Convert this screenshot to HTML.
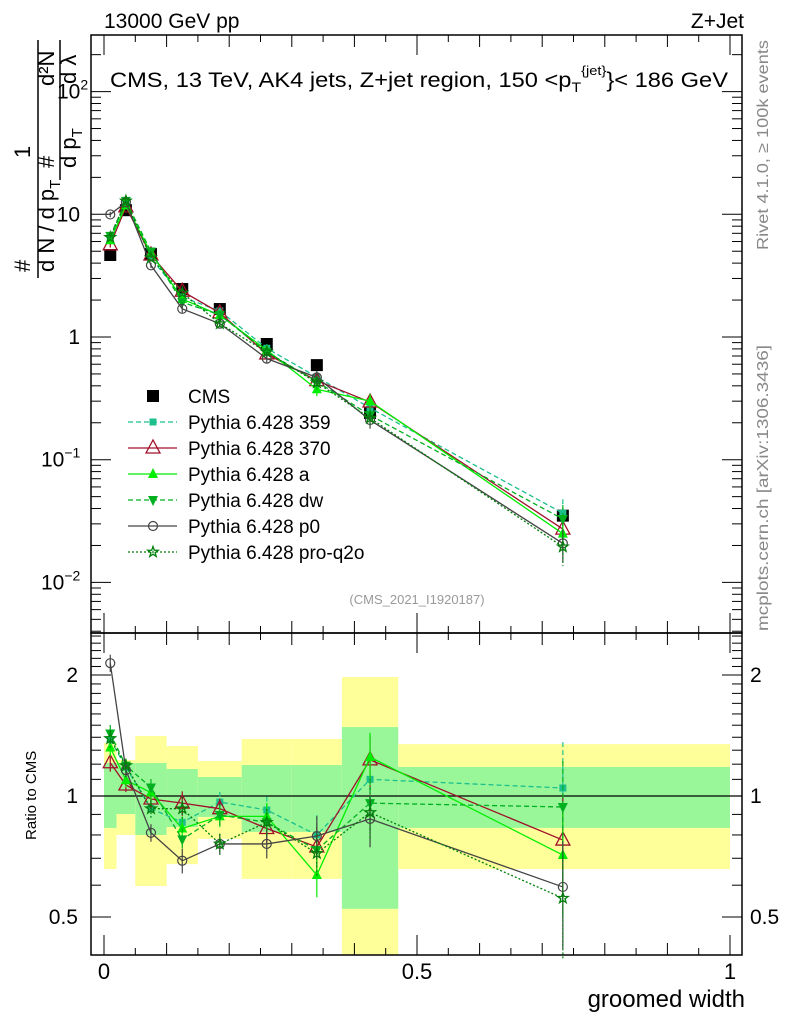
<!DOCTYPE html>
<html><head><meta charset="utf-8"><style>
body{margin:0;background:#fff;}
svg{display:block;font-family:"Liberation Sans",sans-serif;}
</style></head><body>
<svg id="chart" width="786" height="1024" viewBox="0 0 786 1024" xmlns="http://www.w3.org/2000/svg">
<g id="bands"></g>
<g id="axes"></g>
<g id="series"></g>
<g id="legend"></g>
<text x="104" y="28" font-size="21">13000 GeV pp</text>
<text x="744" y="28" font-size="21" text-anchor="end">Z+Jet</text>
<text x="110" y="87" font-size="21" textLength="618" lengthAdjust="spacingAndGlyphs">CMS, 13 TeV, AK4 jets, Z+jet region, 150 &lt;p<tspan font-size="14" dy="5">T</tspan><tspan font-size="13" dy="-17">{jet}</tspan><tspan dy="12">}&lt; 186 GeV</tspan></text>
<text x="417" y="604" font-size="13" fill="#999" text-anchor="middle">(CMS_2021_I1920187)</text>
<text transform="translate(768,250) rotate(-90)" font-size="16" fill="#888" textLength="210" lengthAdjust="spacingAndGlyphs">Rivet 4.1.0, ≥ 100k events</text>
<text transform="translate(768,631) rotate(-90)" font-size="16" fill="#888" textLength="286" lengthAdjust="spacingAndGlyphs">mcplots.cern.ch [arXiv:1306.3436]</text>
<g font-size="22">
<text transform="translate(30,272) rotate(-90)">#</text>
<text transform="translate(54,272) rotate(-90)">d N / d p<tspan font-size="15" dy="6">T</tspan></text>
<text transform="translate(30,158) rotate(-90)">1</text>
<text transform="translate(54,168) rotate(-90)">#</text>
<text transform="translate(76,168) rotate(-90)">d p<tspan font-size="15" dy="6">T</tspan></text>
<text transform="translate(54,86) rotate(-90)">d²N</text>
<text transform="translate(76,84) rotate(-90)">d λ</text>
<line x1="38" y1="278" x2="38" y2="40" stroke="#000" stroke-width="1.5"/>
<line x1="60" y1="180" x2="60" y2="40" stroke="#000" stroke-width="1.5"/>
</g>
<text transform="translate(36,840) rotate(-90)" font-size="15">Ratio to CMS</text>
<text x="745" y="1007" font-size="24" text-anchor="end">groomed width</text>
</svg>
<script>
const xcenters=[0.01,0.035,0.075,0.125,0.185,0.26,0.34,0.425,0.733];
const xedges=[0,0.02,0.05,0.1,0.15,0.22,0.3,0.38,0.47,1.0];
const cms=[4.66,10.8,4.74,2.46,1.69,0.877,0.59,0.24,0.035];
const yelHi=[1.355,1.229,1.41,1.331,1.222,1.386,1.386,1.977,1.346];
const yelLo=[0.658,0.80,0.597,0.677,0.782,0.622,0.622,0.35,0.658];
const grnHi=[1.208,1.208,1.208,1.167,1.115,1.194,1.194,1.484,1.181];
const grnLo=[0.833,0.902,0.80,0.837,0.887,0.814,0.814,0.524,0.833];
const r359=[1.38,1.18,0.93,0.86,0.966,0.923,0.80,1.10,1.047];
const r370=[1.21,1.065,0.983,0.96,0.93,0.83,0.747,1.23,0.777];
const rA=[1.32,1.095,1.02,0.83,0.89,0.89,0.636,1.25,0.713];
const rDW=[1.43,1.19,1.05,0.78,0.897,0.86,0.734,0.96,0.939];
const rP0=[2.14,1.16,0.81,0.69,0.76,0.76,0.795,0.877,0.594];
const rPRO=[1.39,1.19,0.93,0.93,0.76,0.86,0.72,0.91,0.557];
const relErr=[0.05,0.04,0.05,0.07,0.06,0.08,0.12,0.15,0.3];
const NS="http://www.w3.org/2000/svg";
const X0=104,XW=626;
const L=91,R=742,T=35,MB=633,RB=955;
const xs=v=>X0+XW*v;
const ym=v=>337-122.7*Math.log10(v);
const yr=v=>796-402*Math.log10(v);
function mk(p,tag,attrs){const e=document.createElementNS(NS,tag);for(const k in attrs)e.setAttribute(k,attrs[k]);p.appendChild(e);return e;}
const bands=document.getElementById('bands');
for(let i=0;i<cms.length;i++){
 const x1=xs(xedges[i]),x2=xs(xedges[i+1]);
 const top=Math.max(MB,yr(yelHi[i])),bot=Math.min(RB,yr(yelLo[i]));
 const b1=mk(bands,'rect',{x:x1,y:top,width:x2-x1,height:bot-top,fill:'#ffff99'});
 
 
 const b2=mk(bands,'rect',{x:x1,y:yr(grnHi[i]),width:x2-x1,height:yr(grnLo[i])-yr(grnHi[i]),fill:'#99f799'});
 
 
}
const ax=document.getElementById('axes');
function ln(x1,y1,x2,y2,w){return mk(ax,'line',{x1,y1,x2,y2,stroke:'#000','stroke-width':w||1});}
mk(ax,'rect',{x:L,y:T,width:R-L,height:MB-T,fill:'none',stroke:'#000','stroke-width':1.5});
mk(ax,'rect',{x:L,y:MB,width:R-L,height:RB-MB,fill:'none',stroke:'#000','stroke-width':1.5});
ln(L,yr(1),R,yr(1),1.3);
for(let d=-3;d<=2;d++){for(let m=1;m<10;m++){const v=m*Math.pow(10,d);const y=ym(v);if(y<T||y>MB)continue;const len=m==1?20:10;ln(L,y,L+len,y);ln(R,y,R-len,y);}}
const ytl=[[100,'10','2'],[10,'10',''],[1,'1',''],[0.1,'10','−1'],[0.01,'10','−2']];
ytl.forEach(t=>{const tx=mk(ax,'text',{x:80,y:ym(t[0])+7,'font-size':21,'text-anchor':'end'});tx.textContent=t[1];
 
 
 if(t[2]){const s=mk(tx,'tspan',{'font-size':14,dy:-9});s.textContent=t[2];tx.setAttribute('text-anchor','start');tx.setAttribute('x',t[2].length>1?41:57);}});
[0.4,0.5,0.6,0.7,0.8,0.9,1,1.1,1.2,1.3,1.4,1.5,1.6,1.7,1.8,1.9,2,2.1,2.2,2.3,2.4,2.5].forEach(v=>{const y=yr(v);if(y<MB||y>RB)return;const len=(v==0.5||v==1||v==2)?20:10;ln(L,y,L+len,y);ln(R,y,R-len,y);});
[[2,'2'],[1,'1'],[0.5,'0.5']].forEach(t=>{const a=mk(ax,'text',{x:78,y:yr(t[0])+7,'font-size':21,'text-anchor':'end'});a.textContent=t[1];
 
 
 const b=mk(ax,'text',{x:750,y:yr(t[0])+7,'font-size':21});b.textContent=t[1];
 
 });
for(let i=0;i<=20;i++){const v=i*0.05;const x=xs(v);const len=(i%10==0)?20:(i%2==0?12:7);ln(x,MB,x,MB-len);ln(x,T,x,T+len);ln(x,RB,x,RB-len);ln(x,MB,x,MB+len);}
[[0,'0'],[0.5,'0.5'],[1,'1']].forEach(t=>{const a=mk(ax,'text',{x:xs(t[0]),y:979,'font-size':22,'text-anchor':'middle'});a.textContent=t[1];
 
 });
const ser=document.getElementById('series');
function marker(g,type,x,y,col){
 if(type=='sq')mk(g,'rect',{x:x-3.5,y:y-3.5,width:7,height:7,fill:col});
 else if(type=='bigsq')mk(g,'rect',{x:x-6,y:y-6,width:12,height:12,fill:col});
 else if(type=='tri')mk(g,'polygon',{points:`${x},${y-8} ${x-7},${y+5} ${x+7},${y+5}`,fill:'none',stroke:col,'stroke-width':1.3});
 else if(type=='ftri')mk(g,'polygon',{points:`${x},${y-6} ${x-5},${y+4} ${x+5},${y+4}`,fill:col});
 else if(type=='dtri')mk(g,'polygon',{points:`${x},${y+6} ${x-5},${y-4} ${x+5},${y-4}`,fill:col});
 else if(type=='circ')mk(g,'circle',{cx:x,cy:y,r:4.5,fill:'none',stroke:col,'stroke-width':1.2});
 else if(type=='star'){let p=[];for(let k=0;k<10;k++){const r=k%2?2.2:5.5;const a=-Math.PI/2+k*Math.PI/5;p.push((x+r*Math.cos(a)).toFixed(1)+','+(y+r*Math.sin(a)).toFixed(1));}mk(g,'polygon',{points:p.join(' '),fill:'none',stroke:col,'stroke-width':1.3});}
}
const defs=[
 {name:'pythia-359',r:r359,col:'#1bc08c',dash:'5,3',m:'sq',label:'Pythia 6.428 359'},
 {name:'pythia-370',r:r370,col:'#a0102a',dash:'',m:'tri',label:'Pythia 6.428 370'},
 {name:'pythia-a',r:rA,col:'#00ee00',dash:'',m:'ftri',label:'Pythia 6.428 a'},
 {name:'pythia-dw',r:rDW,col:'#00b020',dash:'5,3',m:'dtri',label:'Pythia 6.428 dw'},
 {name:'pythia-p0',r:rP0,col:'#444',dash:'',m:'circ',label:'Pythia 6.428 p0'},
 {name:'pythia-pro-q2o',r:rPRO,col:'#00800a',dash:'2,2',m:'star',label:'Pythia 6.428 pro-q2o'}];
defs.forEach(d=>{
 const g=mk(ser,'g',{});
 
 
 const mp=[],rp=[];
 d.r.forEach((r,i)=>{mp.push(xs(xcenters[i])+','+ym(cms[i]*r));rp.push(xs(xcenters[i])+','+yr(r));});
 mk(g,'polyline',{points:mp.join(' '),fill:'none',stroke:d.col,'stroke-width':1.3,'stroke-dasharray':d.dash});
 mk(g,'polyline',{points:rp.join(' '),fill:'none',stroke:d.col,'stroke-width':1.3,'stroke-dasharray':d.dash});
 d.r.forEach((r,i)=>{const x=xs(xcenters[i]);
  const yv=cms[i]*r,e=relErr[i];
  mk(g,'line',{x1:x,y1:ym(yv*(1+e)),x2:x,y2:ym(yv*(1-e)),stroke:d.col,'stroke-width':1.2,'stroke-dasharray':d.dash});
  mk(g,'line',{x1:x,y1:yr(r*(1+e)),x2:x,y2:yr(r*(1-e)),stroke:d.col,'stroke-width':1.2,'stroke-dasharray':d.dash});
  marker(g,d.m,x,ym(yv),d.col);marker(g,d.m,x,yr(r),d.col);});
});
const cg=mk(ser,'g',{});


cms.forEach((v,i)=>marker(cg,'bigsq',xs(xcenters[i]),ym(v),'#000'));
cg.parentNode.insertBefore(cg,ser.firstChild);
const lg=document.getElementById('legend');
const rows=[{m:'bigsq',col:'#000',label:'CMS',line:false}].concat(defs.map(d=>({m:d.m,col:d.col,label:d.label,dash:d.dash,line:true})));
rows.forEach((rw,i)=>{const y=396+26*i;
 const g=mk(lg,'g',{});
 
 
 if(rw.line)mk(g,'line',{x1:128,y1:y,x2:177,y2:y,stroke:rw.col,'stroke-width':1.3,'stroke-dasharray':rw.dash});
 marker(g,rw.m,153,y,rw.col);
 const t=mk(g,'text',{x:188,y:y+7,'font-size':19});t.textContent=rw.label;});
</script>
</body></html>
